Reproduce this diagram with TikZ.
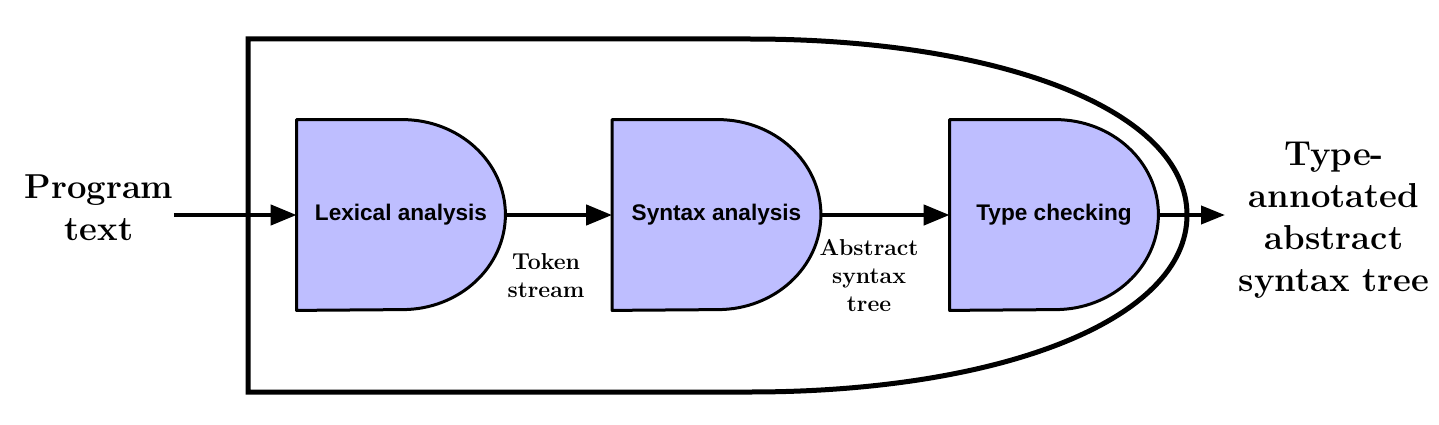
\documentclass[tikz,border=0pt]{standalone}
\usepackage{fontspec}
\newfontfamily\boxfont{Liberation Sans}
\usetikzlibrary{arrows.meta,backgrounds}
\definecolor{boxfill}{RGB}{190,190,255}
\begin{document}
\begin{tikzpicture}[x=0.5pt,y=0.5pt,
  stage/.style={minimum width=104pt,minimum height=95pt,inner sep=0pt,font=\boxfont\bfseries\fontsize{11.3}{13}\selectfont},
  dline/.style={draw=black,line width=1.5pt,fill=boxfill,line join=round},
  flow/.style={line width=2.2pt,-{Triangle[length=13pt,width=10pt]}},
  biglabel/.style={align=center,inner sep=0pt,font=\bfseries\fontsize{17.3}{21}\selectfont},
  smalllabel/.style={align=center,inner sep=0pt,font=\bfseries\fontsize{11.5}{14}\selectfont},
  outer/.style={line width=2.5pt}]
\useasboundingbox (0,0) rectangle (1439,424);
\draw[outer] (248,385) -- (750,385) .. controls (1000,385) and (1187,314) .. (1187,209) .. controls (1187,104) and (1000,32) .. (750,32) -- (248,32) -- cycle;
\node[stage] (lex) at (401,209) {Lexical analysis};
\node[stage] (syn) at (716.5,209) {Syntax analysis};
\node[stage] (typ) at (1054,209) {Type checking};
\begin{scope}[on background layer]
\foreach \n in {lex,syn,typ}
  \draw[dline] (\n.north west) -- ([xshift=-51.5pt]\n.north east) arc[start angle=90,end angle=-90,x radius=51.5pt,y radius=47.5pt] -- (\n.south west) -- cycle;
\end{scope}
\node[biglabel] (prog) at (99,216.5) {Program\\text};
\node[smalllabel] (tok) at (546,148) {Token\\stream};
\node[smalllabel] (ast) at (869,148) {Abstract\\syntax\\tree};
\node[biglabel] (res) at (1334,204) {Type-\\annotated\\abstract\\syntax tree};
\coordinate (out) at (1225,209);
\draw[flow] (prog.east |- lex.west) -- (lex.west);
\draw[flow] (lex.east) -- (syn.west);
\draw[flow] (syn.east) -- (typ.west);
\draw[line width=2pt,-{Triangle[length=12pt,width=9pt]}] (typ.east) -- (out);
\end{tikzpicture}
\end{document}
